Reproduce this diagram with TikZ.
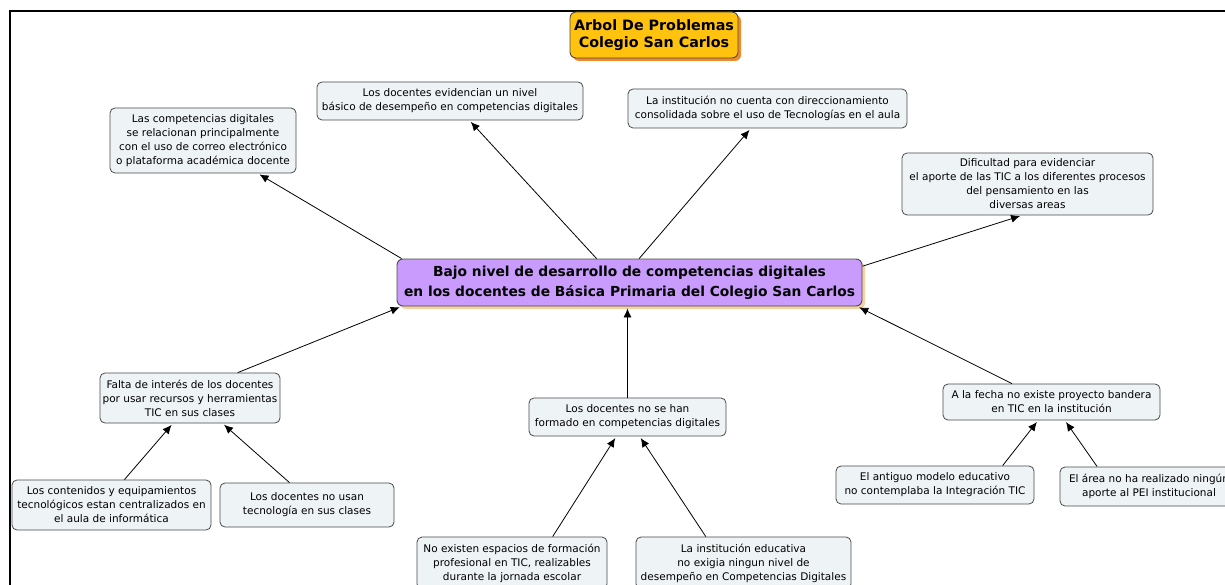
\documentclass[tikz,border=0pt]{standalone}
\usepackage{fontspec}
\setmainfont{DejaVu Sans}
\usetikzlibrary{arrows.meta,shadows}
\definecolor{boxfill}{HTML}{EEF3F6}
\definecolor{boxline}{HTML}{4A4A4A}
\definecolor{titlefill}{HTML}{FFC20E}
\definecolor{titleshadow}{HTML}{F0892A}
\definecolor{mainfill}{HTML}{C99BFC}
\definecolor{mainshadow}{HTML}{F5D3A0}
\tikzset{
  cbox/.style={draw=boxline, fill=boxfill, rounded corners=5pt, line width=0.8pt,
    align=center, font=\fontsize{10.5}{14}\selectfont, inner sep=2pt},
  titlebox/.style={draw=boxline, fill=titlefill, rounded corners=6pt, line width=0.9pt,
    align=center, font=\fontsize{14.3}{17}\selectfont\bfseries, inner sep=2pt,
    drop shadow={shadow xshift=3pt, shadow yshift=-3pt, fill=titleshadow, opacity=1}},
  mainbox/.style={draw=boxline, fill=mainfill, rounded corners=6pt, line width=0.9pt,
    align=center, font=\fontsize{13.8}{20}\selectfont\bfseries, inner sep=2pt,
    drop shadow={shadow xshift=3pt, shadow yshift=-3pt, fill=mainshadow, opacity=1}},
  conn/.style={-{Latex[length=9pt,width=8pt]}, line width=0.8pt, shorten >=2pt},
  frame/.style={line width=1.6pt}
}
\begin{document}
\begin{tikzpicture}[x=1pt,y=-1pt]
\clip (0,0) rectangle (1225,585);
\fill[white] (0,0) rectangle (1225,585);
\draw[frame] (10,590) -- (10,11) -- (1230,11);

\node[titlebox, minimum width=168pt, minimum height=46pt] (title) at (654,35) {Arbol De Problemas\\Colegio San Carlos};

\node[mainbox, minimum width=465pt, minimum height=47pt] (central) at (629.5,282.5)
  {Bajo nivel de desarrollo de competencias digitales\\en los docentes de Básica Primaria del Colegio San Carlos};

\node[cbox, minimum width=186pt, minimum height=65pt] (c1) at (203,140.5)
  {Las competencias digitales\\se relacionan principalmente\\con el uso de correo electrónico\\o plataforma académica docente};
\node[cbox, minimum width=266pt, minimum height=38pt] (c2) at (450,101)
  {Los docentes evidencian un nivel\\básico de desempeño en competencias digitales};
\node[cbox, minimum width=279pt, minimum height=39pt] (c3) at (767.5,108.5)
  {La institución no cuenta con direccionamiento\\consolidada sobre el uso de Tecnologías en el aula};
\node[cbox, minimum width=251pt, minimum height=62pt] (c4) at (1027.5,184)
  {Dificultad para evidenciar\\el aporte de las TIC a los diferentes procesos\\del pensamiento en las\\diversas areas};

\node[cbox, minimum width=180pt, minimum height=50pt] (f1) at (190,398)
  {Falta de interés de los docentes\\por usar recursos y herramientas\\TIC en sus clases};
\node[cbox, minimum width=197pt, minimum height=38pt] (f2) at (627.5,417)
  {Los docentes no se han\\formado en competencias digitales};
\node[cbox, minimum width=217pt, minimum height=36pt] (f3) at (1051.5,402)
  {A la fecha no existe proyecto bandera\\en TIC en la institución};

\node[cbox, minimum width=199pt, minimum height=50pt] (g1) at (111.5,505)
  {Los contenidos y equipamientos\\tecnológicos estan centralizados en\\el aula de informática};
\node[cbox, minimum width=174pt, minimum height=44pt] (g2) at (307,505)
  {Los docentes no usan\\tecnología en sus clases};
\node[cbox, minimum width=190pt, minimum height=52pt] (g3) at (512,563)
  {No existen espacios de formación\\profesional en TIC, realizables\\durante la jornada escolar};
\node[cbox, minimum width=215pt, minimum height=52pt] (g4) at (743.5,563)
  {La institución educativa\\no exigia ningun nivel de\\desempeño en Competencias Digitales};
\node[cbox, minimum width=198pt, minimum height=38pt] (g5) at (935,485)
  {El antiguo modelo educativo\\no contemplaba la Integración TIC};
\node[cbox, minimum width=178pt, minimum height=39pt] (g6) at (1149,486.5)
  {El área no ha realizado ningún\\aporte al PEI institucional};

\draw[conn] (central.174) -- (c1.329);
\draw[conn] (central.144) -- (c2.-45);
\draw[conn] (central.68) -- (c3.230);
\draw[conn] (central.4) -- (c4.260);
\draw[conn] (f1.28) -- (central.186);
\draw[conn] (f2.north) -- (f2.north |- central.south);
\draw[conn] (f3.155) -- (central.-6);
\draw[conn] (g1.63) -- (f1.236);
\draw[conn] (g2.128) -- (f1.-38);
\draw[conn] (g3.33) -- (f2.240);
\draw[conn] (g4.145) -- (f2.-58);
\draw[conn] (g5.16) -- (f3.234);
\draw[conn] (g6.159) -- (f3.-54);
\end{tikzpicture}
\end{document}
